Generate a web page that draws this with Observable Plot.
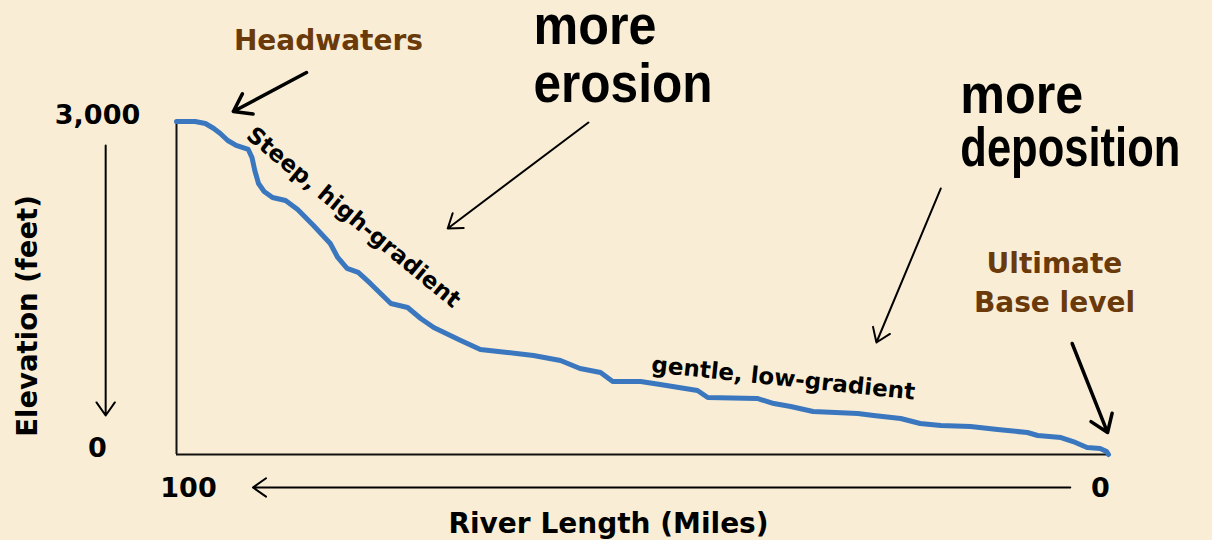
<!DOCTYPE html>
<html>
<head>
<meta charset="utf-8">
<script src="https://cdn.jsdelivr.net/npm/d3@7"></script>
<script src="https://cdn.jsdelivr.net/npm/@observablehq/plot@0.6"></script>
<style>
  html, body { margin: 0; padding: 0; background: #f9eed5; }
  #chart svg { display: block; background: #f9eed5; }
</style>
</head>
<body>
<div id="chart"></div>
<script>
// River profile: distance upstream from mouth (miles) and elevation (feet)
const miles = [100, 98.0, 96.9, 96.0, 95.3, 94.5, 93.6, 92.3, 91.9, 91.6, 91.2, 90.6, 89.7, 88.3, 87.0, 85.3, 83.5, 82.7, 81.7, 80.5, 79.2, 77.0, 75.2, 73.8, 72.4, 69.5, 67.4, 64.5, 61.7, 58.8, 56.7, 54.5, 53.2, 50.2, 48.1, 44.1, 43.0, 37.7, 35.9, 34.1, 31.7, 26.9, 25.2, 22.3, 20.2, 18.0, 14.8, 11.9, 8.7, 7.6, 5.1, 3.8, 2.3, 0.9, 0.2, 0];
const elevation = [3000, 3000, 2982, 2937, 2892, 2829, 2784, 2748, 2676, 2559, 2441, 2369, 2315, 2288, 2207, 2063, 1901, 1775, 1676, 1640, 1541, 1360, 1324, 1225, 1144, 1027, 946, 919, 892, 847, 775, 739, 658, 658, 631, 577, 514, 505, 459, 432, 387, 369, 351, 324, 279, 261, 252, 225, 198, 171, 153, 117, 63, 54, 27, 0];

const yTicks = [0, 3000];
const xTicksLeft = [100];
const xTicksRight = [0];

const yLabel = "Elevation (feet)";
const xLabel = "River Length (Miles)";

// Annotation texts (positions in data units: miles, feet)
const bigLabels = [
  {text: "more", x: 61.7, y: 3694},
  {text: "erosion", x: 61.7, y: 3180},
  {text: "more", x: 15.9, y: 3081},
  {text: "deposition", x: 15.9, y: 2595}
];
const brownLabels = [
  {text: "Headwaters", x: 83.7, y: 3640},
  {text: "Ultimate", x: 5.8, y: 1631},
  {text: "Base level", x: 5.8, y: 1288}
];
const slopeLabels = [
  {text: "Steep, high-gradient", x: 81.0, y: 2135, angle: 39.5},
  {text: "gentle, low-gradient", x: 34.9, y: 685, angle: 6}
];
const thickArrows = [
  {x1: 86.05, y1: 3441, x2: 93.9, y2: 3090},
  {x1: 3.9, y1: 1000, x2: 0.1, y2: 198}
];
const thinArrows = [
  {x1: 55.8, y1: 2991, x2: 70.9, y2: 2036},
  {x1: 18.0, y1: 2396, x2: 24.9, y2: 1009},
  {x1: 107.6, y1: 2784, x2: 107.6, y2: 351},
  {x1: 4.1, y1: -297, x2: 91.8, y2: -297}
];

const profile = miles.map((m, i) => ({miles: m, elevation: elevation[i]}));

const bold = "DejaVu Sans, Verdana, sans-serif";
const narrow = "Liberation Sans Narrow, Arial Narrow, Liberation Sans, Arial, sans-serif";
// horizontal condensing for the big narrow headline words (pixel widths)
const narrowWidths = {"more": 123, "erosion": 179, "deposition": 220};

const chart = Plot.plot({
  width: 1212,
  height: 540,
  marginLeft: 176,
  marginRight: 104,
  marginTop: 121,
  marginBottom: 86,
  style: {background: "#f9eed5", fontFamily: bold},
  x: {domain: [100, 0]},
  y: {domain: [0, 3000]},
  marks: [
    Plot.axisY({ticks: yTicks, tickSize: 0, tickPadding: 79, textAnchor: "middle", tickFormat: d3.format(","), fontSize: 27, fontWeight: "bold", dy: -6, label: null, fill: "#000"}),
    Plot.axisX({ticks: xTicksLeft, tickSize: 0, tickPadding: 23, fontSize: 27, fontWeight: "bold", dx: 12, label: null, fill: "#000"}),
    Plot.axisX({ticks: xTicksRight, tickSize: 0, tickPadding: 23, fontSize: 27, fontWeight: "bold", dx: -8, label: null, fill: "#000"}),
    Plot.ruleX([100], {stroke: "#111", strokeWidth: 2}),
    Plot.ruleY([0], {stroke: "#111", strokeWidth: 2}),
    Plot.line(profile, {x: "miles", y: "elevation", stroke: "#3b77bf", strokeWidth: 5, strokeLinejoin: "round", strokeLinecap: "round"}),
    Plot.arrow(thickArrows, {x1: "x1", y1: "y1", x2: "x2", y2: "y2", stroke: "#000", strokeWidth: 3.5, headLength: 8.5, headAngle: 70}),
    Plot.arrow(thinArrows, {x1: "x1", y1: "y1", x2: "x2", y2: "y2", stroke: "#000", strokeWidth: 2, headLength: 12, headAngle: 70}),
    Plot.text(bigLabels, {x: "x", y: "y", text: "text", textAnchor: "start", lineAnchor: "bottom", fontFamily: narrow, fontWeight: "bold", fontSize: 55, fill: "#000"}),
    Plot.text(brownLabels, {x: "x", y: "y", text: "text", textAnchor: "middle", lineAnchor: "bottom", fontWeight: "bold", fontSize: 28, fill: "#6a3a0b"}),
    Plot.text(slopeLabels, {x: "x", y: "y", text: "text", rotate: d => d.angle, textAnchor: "middle", lineAnchor: "middle", fontWeight: "bold", fontSize: 23, fill: "#000"}),
    Plot.text([yLabel], {frameAnchor: "left", textAnchor: "middle", dx: -148, dy: 28, rotate: -90, fontWeight: "bold", fontSize: 27.5, fill: "#000"}),
    Plot.text([xLabel], {frameAnchor: "bottom", dx: -34, dy: 78, lineAnchor: "bottom", fontWeight: "bold", fontSize: 28, fill: "#000"})
  ]
});
document.getElementById("chart").appendChild(chart);
// condense the big words like a narrow bold face
d3.select(chart).selectAll("text").each(function() {
  const t = this.textContent;
  if (narrowWidths[t] !== undefined) {
    this.setAttribute("textLength", narrowWidths[t]);
    this.setAttribute("lengthAdjust", "spacingAndGlyphs");
  }
});
</script>
</body>
</html>
